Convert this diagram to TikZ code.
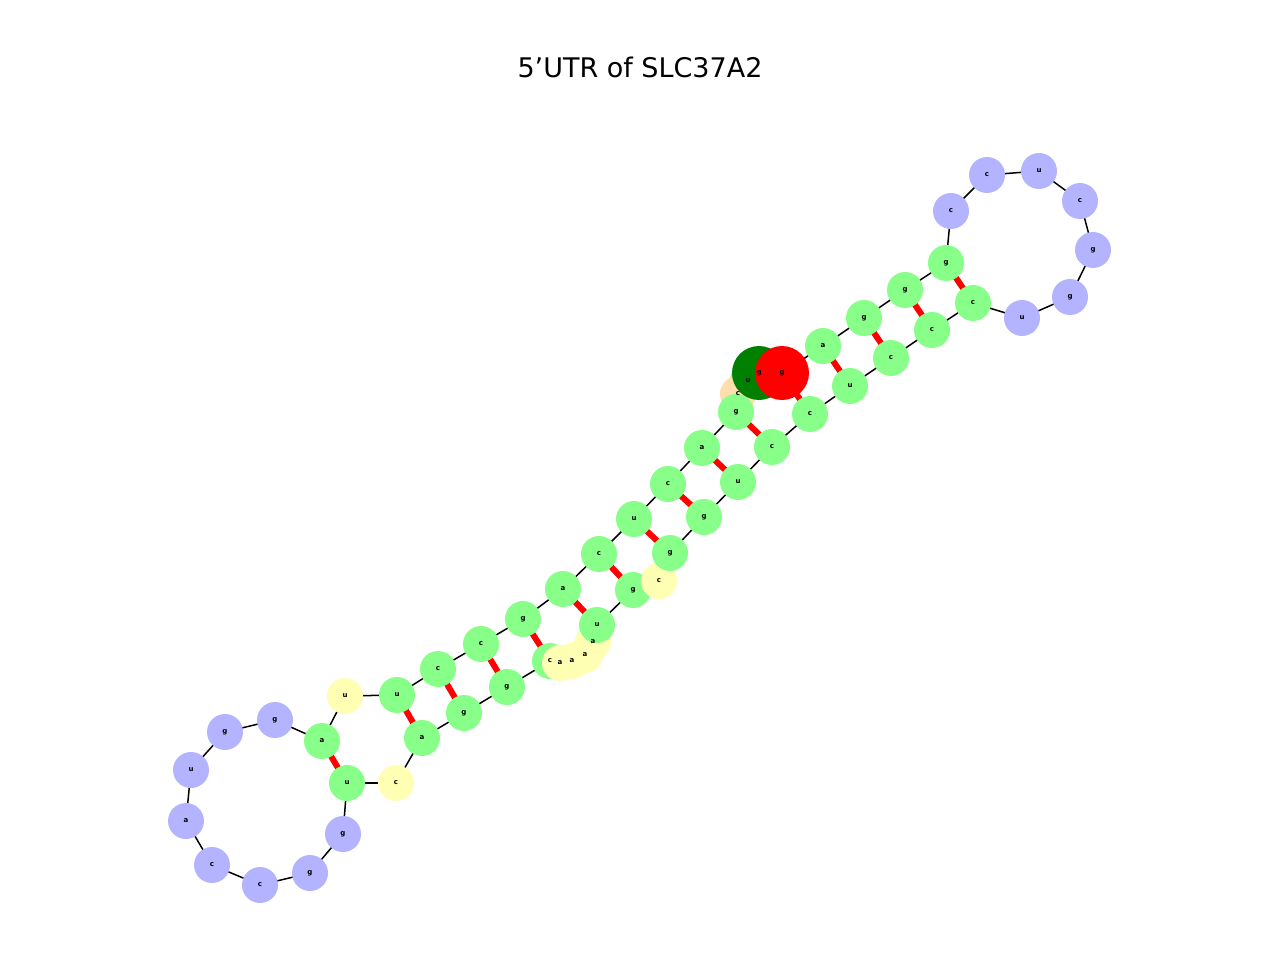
\documentclass[tikz,border=0pt]{standalone}
\usepackage{fontspec}
\setmainfont{DejaVu Sans}
\definecolor{st}{HTML}{88FF88}
\definecolor{lp}{HTML}{B3B3FF}
\definecolor{un}{HTML}{FFFFB3}
\definecolor{pe}{HTML}{FFDEAD}
\definecolor{dg}{HTML}{008000}
\begin{document}
\begin{tikzpicture}[x=1pt,y=-1pt,
  nt/.style={circle,inner sep=0pt,minimum size=36pt,font=\fontsize{7}{7}\selectfont\bfseries},
  bb/.style={black,line width=1.5pt},
  pr/.style={red,line width=6pt}]
\useasboundingbox (0,0) rectangle (1280,960);
\node[font=\fontsize{27}{27}\selectfont] (title) at (640,67) {5'UTR of SLC37A2};
\foreach \n/\x/\y/\l/\c in {
 1/759/373/g/dg, 2/748/381/u/st, 3/738/394/c/pe, 4/736/412/g/st, 5/702/448/a/st,
 6/668/484/c/st, 7/634/519/u/st, 8/599/554/c/st, 9/563/589/a/st, 10/523/619/g/st,
 11/481/644/c/st, 12/438/669/c/st, 13/397/695/u/st, 14/345/696/u/un, 15/322/741/a/st,
 16/275/720/g/lp, 17/225/732/g/lp, 18/191/770/u/lp, 19/186/821/a/lp, 20/212/865/c/lp,
 21/260/885/c/lp, 22/310/873/g/lp, 23/343/834/g/lp, 24/347/783/u/st, 25/396/783/c/un,
 26/422/738/a/st, 27/464/713/g/st, 28/507/687/g/st, 29/550/661/c/st, 30/560/663/a/un,
 31/572/661/a/un, 32/585/655/a/un, 33/593/642/a/un, 34/597/625/u/st, 35/633/590/g/st,
 36/659/581/c/un, 37/670/553/g/st, 38/704/517/g/st, 39/738/482/u/st, 40/772/447/c/st,
 41/810/414/c/st, 42/850/386/u/st, 43/891/358/c/st, 44/932/330/c/st, 45/973/303/c/st,
 46/1022/318/u/lp, 47/1070/297/g/lp, 48/1093/250/g/lp, 49/1080/201/c/lp, 50/1039/171/u/lp,
 51/987/175/c/lp, 52/951/211/c/lp, 53/946/263/g/st, 54/905/290/g/st, 55/864/318/g/st,
 56/823/346/a/st}
  \coordinate (p\n) at (\x,\y);
\coordinate (p57) at (782,373);
\foreach \i [evaluate=\i as \j using int(\i+1)] in {1,...,56} \draw[bb] (p\i) -- (p\j);
\foreach \a/\b in {15/24,13/26,12/27,11/28,10/29,9/34,8/35,7/37,6/38,5/39,4/40,57/41,56/42,55/43,54/44,53/45}
  \draw[pr] (p\a) -- (p\b);
\foreach \n/\l/\c in {2/u/st,3/c/pe,4/g/st,5/a/st,6/c/st,7/u/st,8/c/st,9/a/st,10/g/st,11/c/st,12/c/st,13/u/st,14/u/un,15/a/st,16/g/lp,17/g/lp,18/u/lp,19/a/lp,20/c/lp,21/c/lp,22/g/lp,23/g/lp,24/u/st,25/c/un,26/a/st,27/g/st,28/g/st,29/c/st,33/a/un,32/a/un,31/a/un,30/a/un,34/u/st,35/g/st,36/c/un,37/g/st,38/g/st,39/u/st,40/c/st,41/c/st,42/u/st,43/c/st,44/c/st,45/c/st,46/u/lp,47/g/lp,48/g/lp,49/c/lp,50/u/lp,51/c/lp,52/c/lp,53/g/st,54/g/st,55/g/st,56/a/st}
  \node[nt,fill=\c] (n\n) at (p\n) {};
\node[nt,fill=dg,minimum size=54pt] (n1) at (p1) {};
\node[nt,fill=red,minimum size=54pt] (n57) at (p57) {};
\foreach \n/\l in {2/u,3/c,4/g,5/a,6/c,7/u,8/c,9/a,10/g,11/c,12/c,13/u,14/u,15/a,16/g,17/g,18/u,19/a,20/c,21/c,22/g,23/g,24/u,25/c,26/a,27/g,28/g,29/c,30/a,31/a,32/a,33/a,34/u,35/g,36/c,37/g,38/g,39/u,40/c,41/c,42/u,43/c,44/c,45/c,46/u,47/g,48/g,49/c,50/u,51/c,52/c,53/g,54/g,55/g,56/a,1/g,57/g}
  \node[nt] at (p\n) {\l};
\end{tikzpicture}
\end{document}
